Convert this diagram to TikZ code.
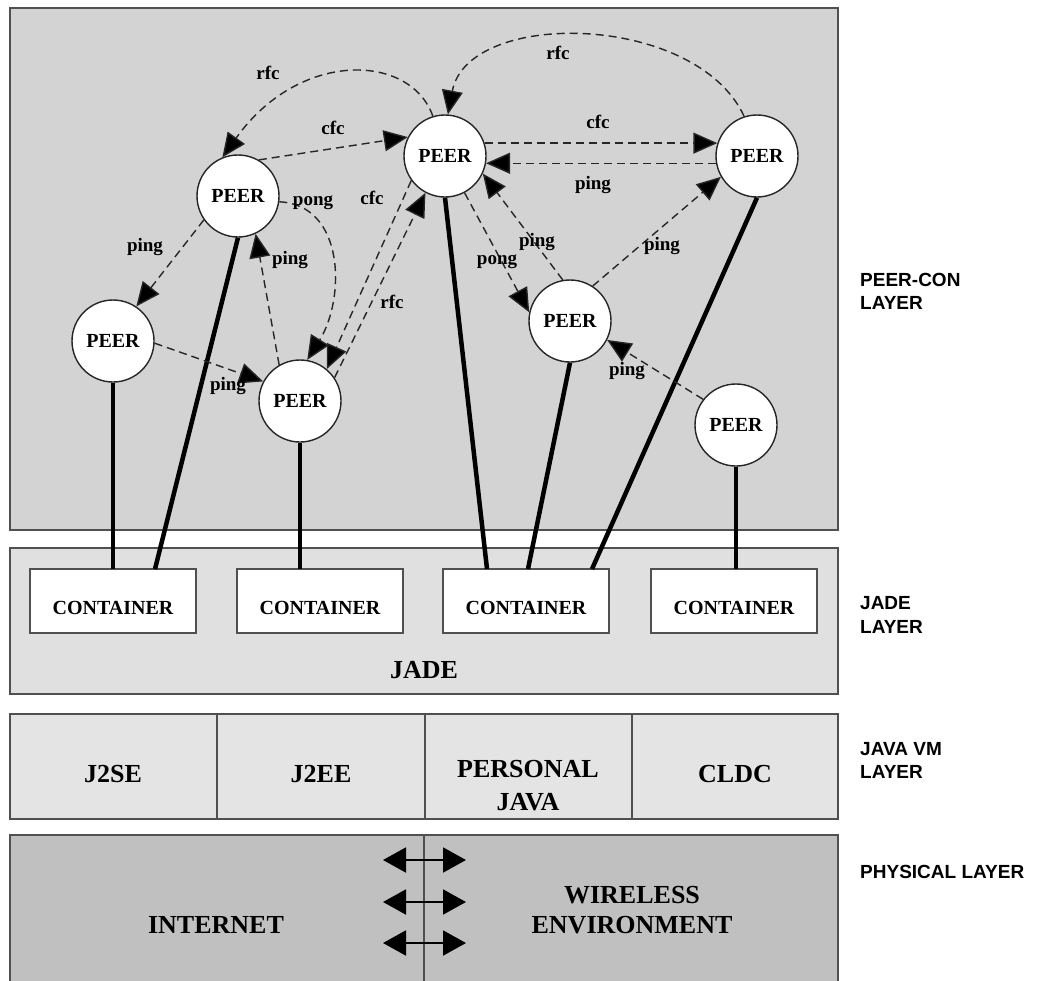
\documentclass[tikz,border=0pt]{standalone}
\usepackage{fontspec}
\setmainfont{Liberation Serif}
\newfontfamily\layfont{Liberation Sans}
\usetikzlibrary{arrows.meta}
\definecolor{peerbg}{HTML}{D3D3D3}
\definecolor{jadebg}{HTML}{E0E0E0}
\definecolor{vmbg}{HTML}{E4E4E4}
\definecolor{physbg}{HTML}{C0C0C0}
\definecolor{edge}{HTML}{505050}
\begin{document}
\begin{tikzpicture}[x=1pt,y=-1pt,
  layerbox/.style={draw=edge, line width=1.2pt},
  peer/.style={circle, draw=black!85, line width=1.4pt, fill=white,
    minimum size=82pt, inner sep=0pt, font=\bfseries\fontsize{20}{24}\selectfont},
  cont/.style={rectangle, draw=edge, line width=1.2pt, fill=white,
    minimum width=166pt, minimum height=64pt, inner sep=0pt,
    text height=26pt, text depth=0pt,
    font=\bfseries\fontsize{20}{24}\selectfont},
  msg/.style={draw=black!85, line width=1.4pt, dash pattern=on 8pt off 5pt,
    -{Triangle[length=24pt,width=21pt,fill=black]}},
  lbl/.style={font=\bfseries\fontsize{19}{22}\selectfont, inner sep=0pt},
  big/.style={font=\bfseries\fontsize{26}{30}\selectfont, inner sep=0pt, anchor=base},
  lay/.style={font=\layfont\bfseries\fontsize{19}{23}\selectfont, inner sep=0pt, anchor=base west},
  link/.style={line width=4.5pt},
  vlink/.style={line width=3.5pt},
  wire/.style={line width=2pt, {Triangle[length=23pt,width=25pt]}-{Triangle[length=23pt,width=25pt]}}
]
\useasboundingbox (0,0) rectangle (1051,980);
\fill[white] (0,0) rectangle (1051,980);

% layer backgrounds
\filldraw[layerbox, fill=peerbg] (10,8) rectangle (838,530);
\filldraw[layerbox, fill=jadebg] (10,548) rectangle (838,694);
\filldraw[layerbox, fill=vmbg] (10,714) rectangle (838,819);
\draw[line width=1.2pt, edge] (217,714) -- (217,819) (425,714) -- (425,819) (632,714) -- (632,819);
\filldraw[layerbox, fill=physbg] (10,835) rectangle (838,990);
\draw[line width=1.2pt, edge] (424,835) -- (424,990);

% containers
\node[cont] (ca) at (113,601) {CONTAINER};
\node[cont] (cb) at (320,601) {CONTAINER};
\node[cont] (cc) at (526,601) {CONTAINER};
\node[cont] (cd) at (734,601) {CONTAINER};
\node[big] (jade) at (424,678) {JADE};

% attachment points on the container tops
\coordinate (k1) at (113,569);
\coordinate (k2) at (155,569);
\coordinate (k3) at (300,569);
\coordinate (k4) at (487,569);
\coordinate (k5) at (528,569);
\coordinate (k6) at (592,569);
\coordinate (k7) at (736,569);

% peers
\node[peer] (pa) at (113,341) {PEER};
\node[peer] (pb) at (238,196) {PEER};
\node[peer] (pc) at (445,156) {PEER};
\node[peer] (pd) at (757,156) {PEER};
\node[peer] (pe) at (570,321) {PEER};
\node[peer] (pf) at (736,425) {PEER};
\node[peer] (pg) at (300,401) {PEER};

% peer to container links
\draw[vlink] (pa.south) -- (k1);
\draw[link] (pb.south) -- (k2);
\draw[vlink] (pg.south) -- (k3);
\draw[link] (pc.south) -- (k4);
\draw[link] (pe.south) -- (k5);
\draw[link] (pd.south) -- (k6);
\draw[vlink] (pf.south) -- (k7);

% messages between peers
\draw[msg] (pc.107) .. controls +(-22,-63) and +(77,-108) .. (pb.112);
\draw[msg] (pb.60) -- (pc.153);
\draw[msg] (pd.108) .. controls +(-48,-104) and +(20,-106) .. (pc.86);
\draw[msg] (pc.18) -- (pd.162);
\draw[msg] (pd.190) -- (pc.350);
\draw[msg] (pb.215) -- (pa.56);
\draw[msg] (pb.-8) .. controls +(66,3) and +(38,-61) .. (pg.80);
\draw[msg] (pg.120) -- (pb.-65);
\draw[msg] (pc.216) -- (pg.50);
\draw[msg] (pg.34) -- (pc.242);
\draw[msg] (pa.-3) -- (pg.152);
\draw[msg] (pc.-62) -- (pe.168);
\draw[msg] (pe.100) -- (pc.-25);
\draw[msg] (pe.57) -- (pd.210);
\draw[msg] (pf.142) -- (pe.-27);

% message labels
\node[lbl] (m1) at (268,73) {rfc};
\node[lbl] (m2) at (333,128) {cfc};
\node[lbl] (m3) at (558,53) {rfc};
\node[lbl] (m4) at (598,122) {cfc};
\node[lbl] (m5) at (593,185) {ping};
\node[lbl] (m6) at (145,247) {ping};
\node[lbl] (m7) at (313,203) {pong};
\node[lbl] (m8) at (290,260) {ping};
\node[lbl] (m9) at (372,198) {cfc};
\node[lbl] (m10) at (392,302) {rfc};
\node[lbl] (m11) at (228,386) {ping};
\node[lbl] (m12) at (497,262) {pong};
\node[lbl] (m13) at (537,242) {ping};
\node[lbl] (m14) at (662,246) {ping};
\node[lbl] (m15) at (627,371) {ping};

% java vm row
\node[big] (vm1) at (113,782) {J2SE};
\node[big] (vm2) at (321,782) {J2EE};
\node[big] (vm3) at (528,777) {PERSONAL};
\node[big] (vm4) at (528,810) {JAVA};
\node[big] (vm5) at (735,782) {CLDC};

% physical row
\node[big] (ph1) at (216,933) {INTERNET};
\node[big] (ph2) at (632,903) {WIRELESS};
\node[big] (ph3) at (632,933) {ENVIRONMENT};
\coordinate (wl1) at (383,860); \coordinate (wr1) at (466,860);
\coordinate (wl2) at (383,902); \coordinate (wr2) at (466,902);
\coordinate (wl3) at (383,943); \coordinate (wr3) at (466,943);
\draw[wire] (wl1) -- (wr1);
\draw[wire] (wl2) -- (wr2);
\draw[wire] (wl3) -- (wr3);

% layer names
\node[lay] (n1) at (860,286) {PEER-CON};
\node[lay] (n2) at (860,309) {LAYER};
\node[lay] (n3) at (860,609) {JADE};
\node[lay] (n4) at (860,633) {LAYER};
\node[lay] (n5) at (860,755) {JAVA VM};
\node[lay] (n6) at (860,778) {LAYER};
\node[lay] (n7) at (860,878) {PHYSICAL LAYER};
\end{tikzpicture}
\end{document}
